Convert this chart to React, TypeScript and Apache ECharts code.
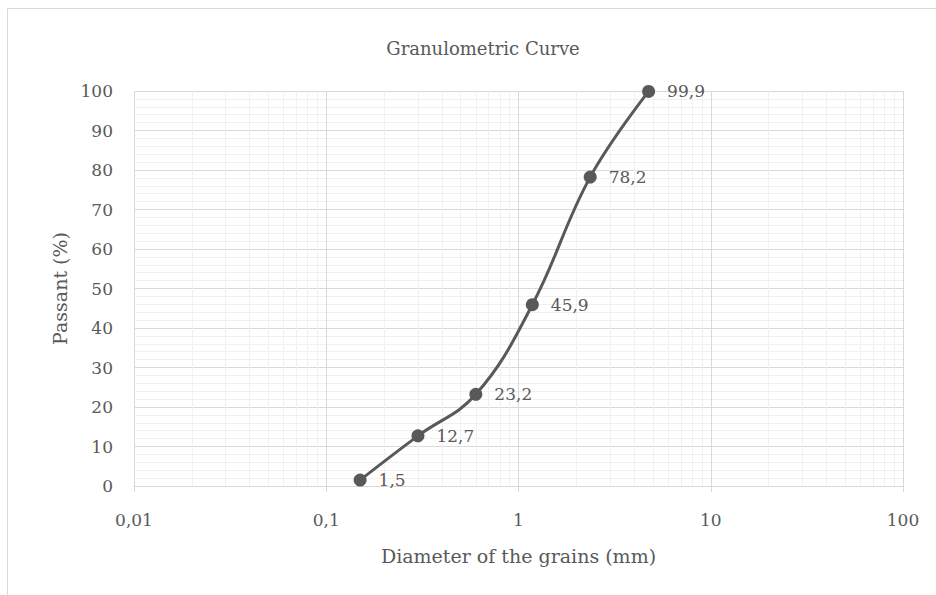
import React, { useEffect, useRef } from "react";
import * as echarts from "echarts";

const diameters = [0.15, 0.3, 0.6, 1.18, 2.36, 4.75];
const passing = [1.5, 12.7, 23.2, 45.9, 78.2, 99.9];
const minorX = [
  0.02, 0.03, 0.04, 0.05, 0.06, 0.07, 0.08, 0.09,
  0.2, 0.3, 0.4, 0.5, 0.6, 0.7, 0.8, 0.9,
  2, 3, 4, 5, 6, 7, 8, 9,
  20, 30, 40, 50, 60, 70, 80, 90,
];
const titleText = "Granulometric Curve";
const xName = "Diameter of the grains (mm)";
const yName = "Passant (%)";

const FONT = "DejaVu Serif";
const TXT = "#595959";

const fmt = (v: number) => String(v).replace(".", ",");

export default function App() {
  const ref = useRef<HTMLDivElement>(null);
  useEffect(() => {
    if (!ref.current) return;
    const chart = echarts.init(ref.current, null, { renderer: "svg" });
    chart.setOption({
      animation: false,
      backgroundColor: "#ffffff",
      title: {
        text: titleText,
        left: 478,
        top: 34,
        textAlign: "center",
        textStyle: { fontFamily: FONT, fontSize: 18, fontWeight: "normal", color: TXT },
      },
      graphic: [
        {
          type: "rect",
          shape: { x: 7.5, y: 8.5, width: 940, height: 600 },
          style: { fill: "none", stroke: "#d9d9d9", lineWidth: 1 },
          silent: true,
        },
      ],
      grid: { left: 134, right: 33, top: 91, bottom: 109 },
      xAxis: {
        type: "log",
        logBase: 10,
        min: 0.01,
        max: 100,
        name: xName,
        nameLocation: "middle",
        nameGap: 60,
        nameTextStyle: { fontFamily: FONT, fontSize: 19, color: TXT },
        axisLine: { show: true, lineStyle: { color: "#d9d9d9", width: 1 } },
        axisTick: { show: true, length: 6, lineStyle: { color: "#d9d9d9" } },
        axisLabel: {
          fontFamily: FONT,
          fontSize: 17,
          color: TXT,
          margin: 25,
          formatter: (v: number) => fmt(v),
        },
        splitLine: { show: true, lineStyle: { color: "#d9d9d9", width: 1 } },
        minorTick: { show: false },
        minorSplitLine: { show: false },
      },
      yAxis: {
        type: "value",
        min: 0,
        max: 100,
        interval: 10,
        name: yName,
        nameLocation: "middle",
        nameGap: 64,
        nameTextStyle: { fontFamily: FONT, fontSize: 19, color: TXT },
        axisLine: { show: false },
        axisTick: { show: false },
        axisLabel: { fontFamily: FONT, fontSize: 17, color: TXT, margin: 21 },
        splitLine: { show: true, lineStyle: { color: "#d9d9d9", width: 1 } },
        minorTick: { show: false, splitNumber: 5 },
        minorSplitLine: { show: true, lineStyle: { color: "#f0f0f0", width: 1 } },
      },
      series: [
        {
          type: "line",
          data: [],
          z: 1,
          silent: true,
          markLine: {
            silent: true,
            symbol: ["none", "none"],
            label: { show: false },
            lineStyle: { color: "#f0f0f0", width: 1, type: "solid" },
            emphasis: { disabled: true },
            data: minorX.map((v) => ({ xAxis: v })),
          },
        },
        {
          type: "line",
          z: 5,
          data: diameters.map((d, i) => [d, passing[i]]),
          smooth: 0.4,
          symbol: "circle",
          symbolSize: 13,
          itemStyle: { color: "#595959" },
          lineStyle: { color: "#595959", width: 3 },
          label: {
            show: true,
            position: "right",
            distance: 12,
            fontFamily: FONT,
            fontSize: 17,
            color: TXT,
            formatter: (p: any) => fmt(p.value[1]),
          },
        },
      ],
    });
    return () => chart.dispose();
  }, []);
  return (
    <div
      ref={ref}
      style={{ position: "fixed", left: 0, top: 0, width: 936, height: 595 }}
    />
  );
}
